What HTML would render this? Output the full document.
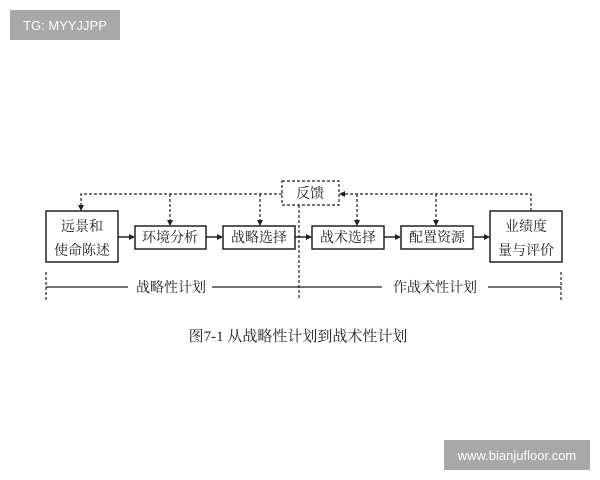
<!DOCTYPE html>
<html><head><meta charset="utf-8"><style>
html,body{margin:0;padding:0;background:#fff;}
svg{display:block;}
text{font-family:"Liberation Serif","Noto Serif CJK SC",serif;fill:#222;}
</style></head><body>
<svg width="600" height="480" viewBox="0 0 600 480" xmlns="http://www.w3.org/2000/svg">
<defs><marker id="a" markerWidth="6" markerHeight="6" refX="5" refY="3" orient="auto" markerUnits="userSpaceOnUse"><path d="M0,0 L6,3 L0,6z" fill="#222"/></marker></defs>
<rect x="10" y="10" width="110" height="30" fill="#a8a8a8"/>
<text x="65" y="30" text-anchor="middle" style="font-family:'Liberation Sans',sans-serif;font-size:13px;fill:#fff">TG: MYYJJPP</text>
<rect x="444" y="440" width="146" height="30" fill="#a8a8a8"/>
<text x="517" y="460" text-anchor="middle" style="font-family:'Liberation Sans',sans-serif;font-size:13px;fill:#fff">www.bianjufloor.com</text>
<g stroke="#222" stroke-width="1.5" fill="none">
<rect x="46" y="211" width="72" height="51"/>
<rect x="135" y="226" width="71" height="23"/>
<rect x="223" y="226" width="72" height="23"/>
<rect x="312" y="226" width="72" height="23"/>
<rect x="401" y="226" width="72" height="23"/>
<rect x="490" y="211" width="72" height="51"/>
<line x1="118" y1="237" x2="134" y2="237" marker-end="url(#a)"/>
<line x1="206" y1="237" x2="222" y2="237" marker-end="url(#a)"/>
<line x1="295" y1="237" x2="311" y2="237" marker-end="url(#a)"/>
<line x1="384" y1="237" x2="400" y2="237" marker-end="url(#a)"/>
<line x1="473" y1="237" x2="489" y2="237" marker-end="url(#a)"/>
</g>
<g stroke="#222" stroke-width="1.2" fill="none" stroke-dasharray="3,2">
<rect x="282" y="181" width="57" height="24"/>
<polyline points="282,194 81,194 81,210" marker-end="url(#a)"/>
<line x1="170" y1="194" x2="170" y2="225" marker-end="url(#a)"/>
<line x1="260" y1="194" x2="260" y2="225" marker-end="url(#a)"/>
<polyline points="531,211 531,194 340,194" marker-end="url(#a)"/>
<line x1="357" y1="194" x2="357" y2="225" marker-end="url(#a)"/>
<line x1="436" y1="194" x2="436" y2="225" marker-end="url(#a)"/>
<line x1="299" y1="205" x2="299" y2="300"/>
<line x1="46" y1="272" x2="46" y2="300"/>
<line x1="561" y1="272" x2="561" y2="300"/>
</g>
<g stroke="#222" stroke-width="1.2">
<line x1="46" y1="287" x2="128" y2="287"/>
<line x1="212" y1="287" x2="382" y2="287"/>
<line x1="488" y1="287" x2="561" y2="287"/>
</g>
<g font-size="14" text-anchor="middle">
<text x="82" y="231">远景和</text>
<text x="82" y="255">使命陈述</text>
<text x="170" y="242">环境分析</text>
<text x="259" y="242">战略选择</text>
<text x="348" y="242">战术选择</text>
<text x="437" y="242">配置资源</text>
<text x="526" y="231">业绩度</text>
<text x="526" y="255">量与评价</text>
<text x="310" y="198">反馈</text>
<text x="171" y="292">战略性计划</text>
<text x="435" y="292">作战术性计划</text>
<text x="298" y="341" font-size="15">图7-1  从战略性计划到战术性计划</text>
</g>
</svg>
</body></html>
